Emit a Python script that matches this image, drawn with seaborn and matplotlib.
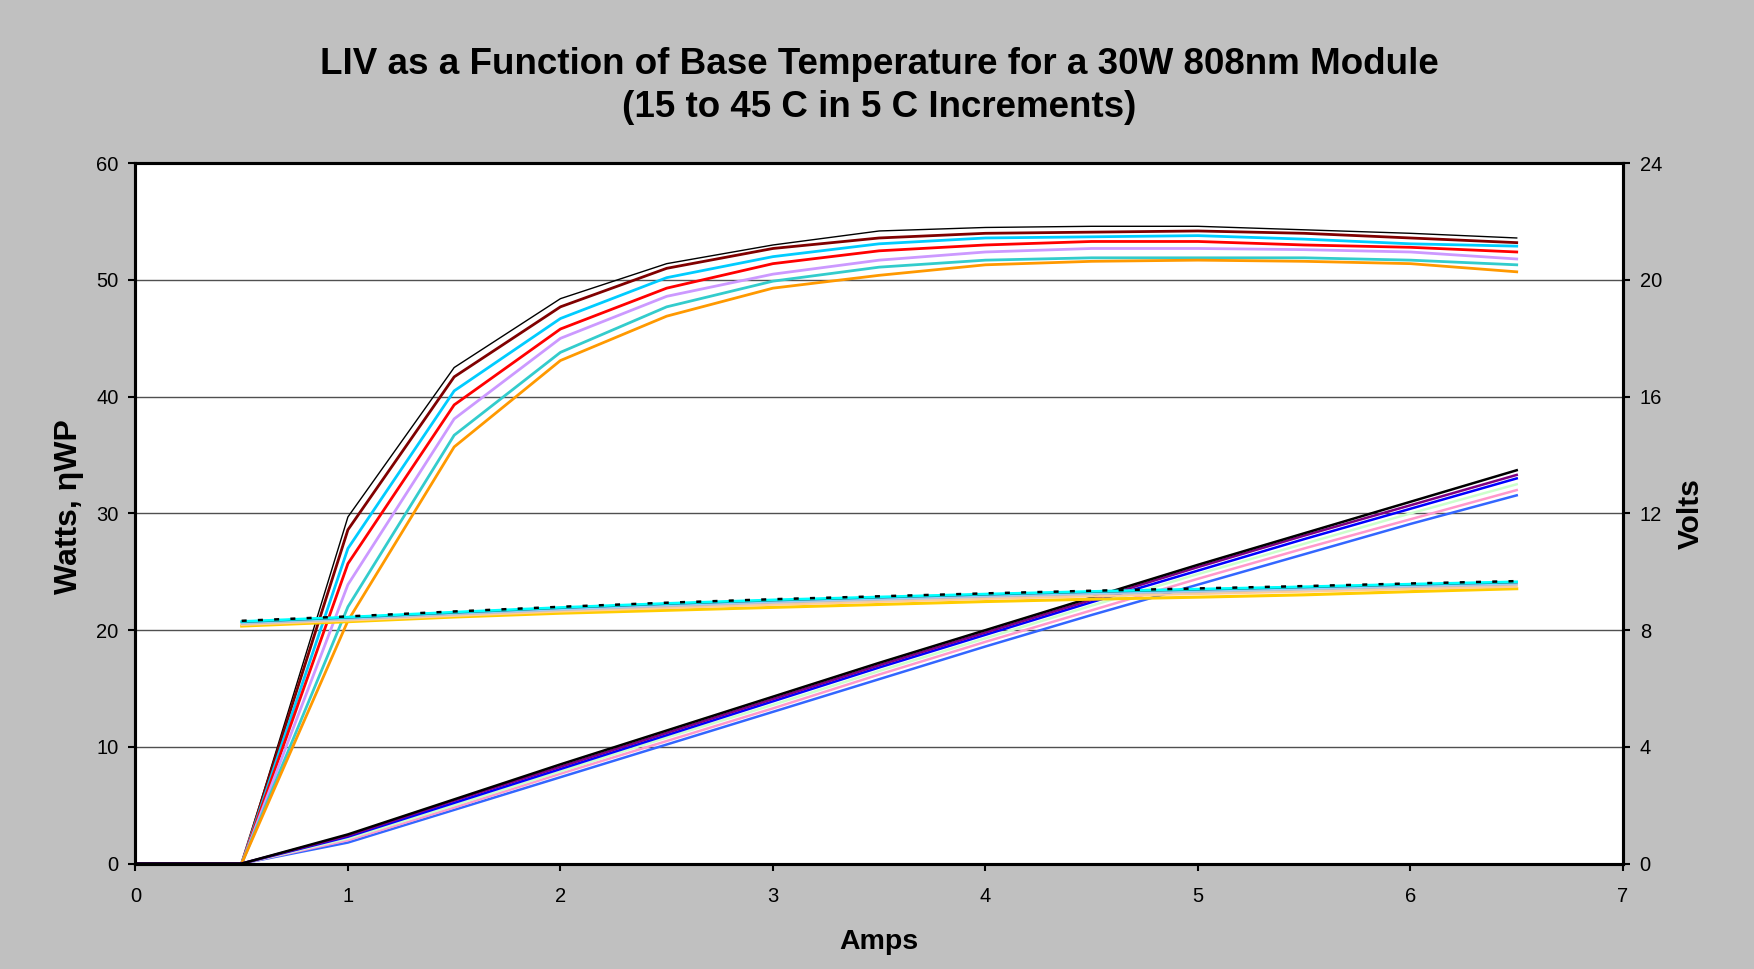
import matplotlib
matplotlib.use("Agg")
import matplotlib.pyplot as plt
import seaborn as sns

# Drive current (A)
amps = [0, 0.5, 1, 1.5, 2, 2.5, 3, 3.5, 4, 4.5, 5, 5.5, 6, 6.5]
amps_v = amps[1:]  # voltage is logged from 0.5 A onward

# Wall-plug efficiency (%), one curve per base temperature
eff_a = [0, 0, 29.7, 42.5, 48.4, 51.4, 53.0, 54.2, 54.5, 54.6, 54.6, 54.3, 54.0, 53.6]
eff_b = [0, 0, 28.6, 41.7, 47.7, 51.0, 52.7, 53.6, 54.0, 54.1, 54.2, 54.0, 53.6, 53.2]
eff_c = [0, 0, 27.0, 40.5, 46.7, 50.2, 52.0, 53.1, 53.6, 53.7, 53.8, 53.5, 53.1, 52.9]
eff_d = [0, 0, 25.7, 39.3, 45.8, 49.3, 51.4, 52.5, 53.0, 53.3, 53.3, 53.0, 52.8, 52.4]
eff_e = [0, 0, 23.9, 38.1, 45.0, 48.6, 50.5, 51.7, 52.4, 52.7, 52.7, 52.6, 52.4, 51.8]
eff_f = [0, 0, 22.0, 36.7, 43.8, 47.7, 49.9, 51.1, 51.7, 51.9, 51.9, 51.9, 51.7, 51.3]
eff_g = [0, 0, 20.8, 35.7, 43.1, 46.9, 49.3, 50.4, 51.3, 51.6, 51.7, 51.6, 51.4, 50.7]

# Optical output power (W)
pow_a = [0, 0, 2.5, 5.5, 8.5, 11.4, 14.3, 17.2, 20.0, 22.8, 25.6, 28.3, 31.0, 33.7]
pow_b = [0, 0, 2.4, 5.4, 8.3, 11.2, 14.1, 17.0, 19.8, 22.6, 25.4, 28.1, 30.7, 33.3]
pow_c = [0, 0, 2.3, 5.2, 8.1, 11.0, 13.9, 16.8, 19.6, 22.4, 25.1, 27.8, 30.4, 33.0]
pow_d = [0, 0, 2.15, 5.0, 7.9, 10.8, 13.6, 16.5, 19.3, 22.1, 24.8, 27.4, 30.0, 32.5]
pow_e = [0, 0, 2.0, 4.8, 7.7, 10.5, 13.3, 16.2, 19.0, 21.7, 24.4, 27.0, 29.5, 32.0]
pow_f = [0, 0, 1.8, 4.6, 7.4, 10.2, 13.0, 15.8, 18.6, 21.3, 23.9, 26.5, 29.1, 31.55]

# Forward voltage (V), right axis
volt_a = [8.32, 8.47, 8.64, 8.80, 8.94, 9.06, 9.16, 9.26, 9.35, 9.43, 9.51, 9.60, 9.68]
volt_b = [8.30, 8.45, 8.62, 8.78, 8.92, 9.04, 9.14, 9.24, 9.33, 9.41, 9.49, 9.58, 9.66]
volt_c = [8.28, 8.43, 8.60, 8.76, 8.90, 9.02, 9.12, 9.22, 9.31, 9.39, 9.47, 9.56, 9.64]
volt_d = [8.25, 8.40, 8.57, 8.72, 8.86, 8.98, 9.08, 9.18, 9.27, 9.35, 9.43, 9.52, 9.60]
volt_e = [8.22, 8.37, 8.54, 8.69, 8.82, 8.94, 9.04, 9.14, 9.23, 9.31, 9.39, 9.48, 9.56]
volt_f = [8.18, 8.33, 8.49, 8.64, 8.76, 8.87, 8.97, 9.07, 9.16, 9.24, 9.32, 9.41, 9.49]
volt_g = [8.14, 8.29, 8.45, 8.58, 8.68, 8.78, 8.88, 8.98, 9.06, 9.13, 9.21, 9.32, 9.42]

x_ticks = [0, 1, 2, 3, 4, 5, 6, 7]
left_ticks = [0, 10, 20, 30, 40, 50, 60]
right_ticks = [0, 4, 8, 12, 16, 20, 24]

BG = "#C0C0C0"
plt.rcParams["font.family"] = ["Liberation Sans", "DejaVu Sans"]

fig = plt.figure(figsize=(17.54, 9.69), dpi=100, facecolor=BG)
ax = fig.add_axes([0.0772, 0.1088, 0.8481, 0.7227])
ax.set_facecolor("white")

# efficiency curves
eff_series = [
    (eff_a, "#000000", 1.0),
    (eff_b, "#800000", 2.0),
    (eff_c, "#00CCFF", 2.0),
    (eff_d, "#FF0000", 2.0),
    (eff_e, "#CC99FF", 2.0),
    (eff_f, "#33CCCC", 2.0),
    (eff_g, "#FF9900", 2.0),
]
for ys, col, lw in eff_series:
    sns.lineplot(x=amps, y=ys, ax=ax, color=col, linewidth=lw, zorder=3)

# optical power lines
pow_series = [
    (pow_f, "#3366FF"),
    (pow_e, "#FF99CC"),
    (pow_d, "#CCFFCC"),
    (pow_c, "#0000FF"),
    (pow_b, "#800080"),
    (pow_a, "#000000"),
]
for ys, col in pow_series:
    sns.lineplot(x=amps, y=ys, ax=ax, color=col, linewidth=1.8, zorder=3)

ax.set_xlim(0, 7)
ax.set_ylim(0, 60)
ax.set_xticks(x_ticks)
ax.set_yticks(left_ticks)
ax.grid(axis="y", color="#505050", linewidth=1.0, zorder=1)
ax.grid(axis="x", visible=False)
ax.set_axisbelow(True)

# voltage on secondary axis
ax2 = ax.twinx()
volt_series = [
    (volt_g, "#FFCC00", 2.2, "-"),
    (volt_f, "#FFCC99", 1.6, "-"),
    (volt_e, "#C0C0C0", 1.6, "-"),
    (volt_d, "#99CCFF", 1.6, "-"),
    (volt_c, "#008080", 1.6, "-"),
    (volt_b, "#00FFFF", 1.8, "-"),
]
for ys, col, lw, ls in volt_series:
    sns.lineplot(x=amps_v, y=ys, ax=ax2, color=col, linewidth=lw, linestyle=ls)
sns.lineplot(x=amps_v, y=volt_a, ax=ax2, color="black", linewidth=1.8,
             linestyle=(0, (2.0, 4.5)))
ax2.set_ylim(0, 24)
ax2.set_yticks(right_ticks)
ax2.grid(False)

for a in (ax, ax2):
    for side in ("left", "right", "bottom", "top"):
        a.spines[side].set_color("black")
        a.spines[side].set_linewidth(2.2)

ax.tick_params(axis="x", labelsize=14.5, length=5, width=1.5, pad=12, colors="black")
ax.tick_params(axis="y", labelsize=14.5, length=5, width=1.5, pad=7, colors="black")
ax2.tick_params(axis="y", labelsize=14.5, length=5, width=1.5, pad=7, colors="black")

ax.set_xlabel("Amps", fontsize=20.5, fontweight="bold")
ax.set_ylabel("Watts, ηWP", fontsize=23, fontweight="bold")
ax2.set_ylabel("Volts", fontsize=21.5, fontweight="bold", rotation=90)
ax.xaxis.set_label_coords(0.5, -0.093)
ax.yaxis.set_label_coords(-0.0346, 0.51)
ax2.yaxis.set_label_coords(1.036, 0.5)

ax.set_title("LIV as a Function of Base Temperature for a 30W 808nm Module\n"
             "(15 to 45 C in 5 C Increments)",
             fontsize=26.5, fontweight="bold", pad=33, linespacing=1.3)

fig.savefig("out.png", dpi=100, facecolor=BG)
